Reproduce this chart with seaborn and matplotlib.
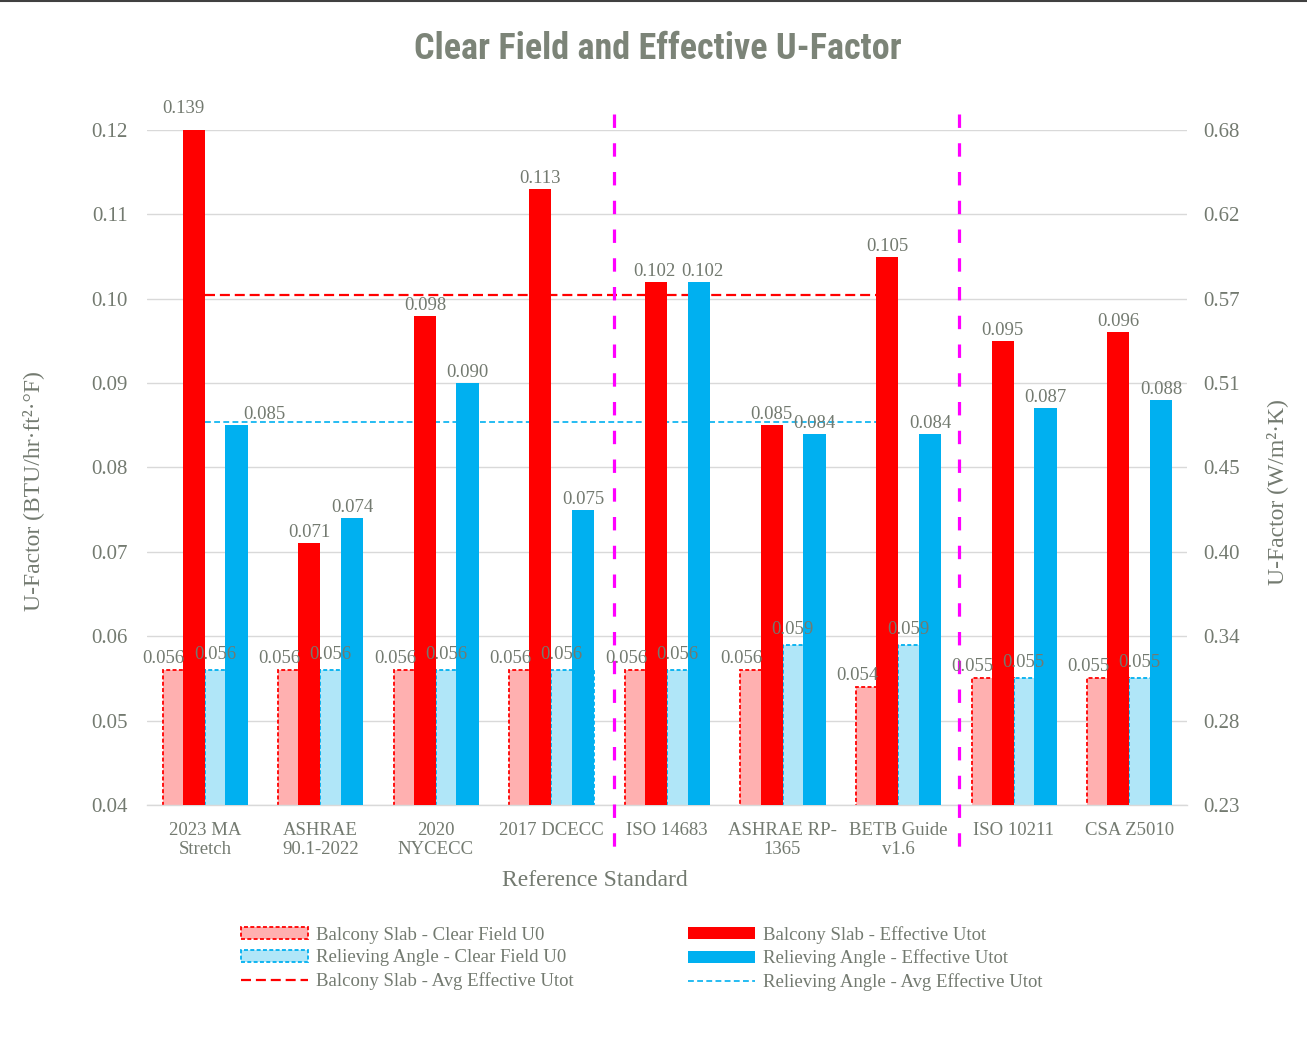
import numpy as np
import pandas as pd
import matplotlib.pyplot as plt
import seaborn as sns
from matplotlib.patches import Patch
from matplotlib.lines import Line2D
from matplotlib import font_manager as fm

# Data
standards = ["2023 MA\nStretch", "ASHRAE\n90.1-2022", "2020\nNYCECC", "2017 DCECC", "ISO 14683",
             "ASHRAE RP-\n1365", "BETB Guide\nv1.6", "ISO 10211", "CSA Z5010"]
slab_clear = [0.056, 0.056, 0.056, 0.056, 0.056, 0.056, 0.054, 0.055, 0.055]
angle_clear = [0.056, 0.056, 0.056, 0.056, 0.056, 0.059, 0.059, 0.055, 0.055]
slab_eff = [0.139, 0.071, 0.098, 0.113, 0.102, 0.085, 0.105, 0.095, 0.096]
angle_eff = [0.085, 0.074, 0.090, 0.075, 0.102, 0.084, 0.084, 0.087, 0.088]
slab_avg = 0.1004
angle_avg = 0.0854
left_ticks = [0.04, 0.05, 0.06, 0.07, 0.08, 0.09, 0.10, 0.11, 0.12]
left_labels = ["0.04", "0.05", "0.06", "0.07", "0.08", "0.09", "0.10", "0.11", "0.12"]
right_labels = ["0.23", "0.28", "0.34", "0.40", "0.45", "0.51", "0.57", "0.62", "0.68"]

RED = "#FF0000"
BLUE = "#00B0F0"
PINK = "#FFB0B0"
LBLUE = "#B0E6F8"
MAGENTA = "#FF00FF"
TXT = "#737a70"
GRID = "#D9D9D9"

sns.set_theme(style="white")
plt.rcParams["font.family"] = ["Liberation Serif", "DejaVu Sans"]


def pick_font(names):
    for n in names:
        try:
            fm.findfont(fm.FontProperties(family=n), fallback_to_default=False)
            return n
        except Exception:
            continue
    return "DejaVu Sans"


title_font = pick_font(["Roboto Condensed", "Liberation Sans Narrow", "Open Sans Condensed",
                        "Arial Narrow", "DejaVu Sans Condensed"])
title_size = 26 if title_font != "DejaVu Sans" else 20

W, H = 1307, 1058
fig = plt.figure(figsize=(W / 100, H / 100), dpi=100)
ax = fig.add_axes([147 / W, 1 - 805 / H, 1040 / W, 675 / H])

# clear field bars (dodged pair, dashed outline)
df = pd.DataFrame({
    "standard": standards * 2,
    "value": slab_clear + angle_clear,
    "series": ["Balcony Slab - Clear Field U0"] * 9 + ["Relieving Angle - Clear Field U0"] * 9,
})
sns.barplot(data=df, x="standard", y="value", hue="series", palette=[PINK, LBLUE],
            width=0.728, gap=0, saturation=1, errorbar=None, legend=False, ax=ax, zorder=2)
for cont, ec in zip(ax.containers, [RED, BLUE]):
    for p in cont:
        p.set_edgecolor(ec)
        p.set_linestyle((0, (2.2, 1.3)))
        p.set_linewidth(1.3)

# effective bars, narrower and offset like the Excel original
x = np.arange(len(standards))
sns.barplot(x=x - 0.095, y=slab_eff, native_scale=True, width=0.19, color=RED,
            saturation=1, errorbar=None, ax=ax, zorder=3, linewidth=0)
sns.barplot(x=x + 0.275, y=angle_eff, native_scale=True, width=0.195, color=BLUE,
            saturation=1, errorbar=None, ax=ax, zorder=3, linewidth=0)

# average lines
ax.hlines(slab_avg, x[0], x[6], color=RED, lw=1.6, linestyles=(0, (4.5, 2.2)), zorder=1)
ax.hlines(angle_avg, x[0], x[6], color=BLUE, lw=1.2, linestyles=(0, (3.5, 2)), zorder=1)

# divider lines (drawn top-down so the dash pattern starts at the top)
for d in [3.54, 6.53]:
    ax.plot([d, d], [1.024, -0.07], transform=ax.get_xaxis_transform(), color=MAGENTA,
            lw=2.3, linestyle=(0, (4.2, 4.8)), clip_on=False, zorder=4)

ax.set_xlim(-0.5, 8.5)
ax.set_ylim(0.04, 0.12)
ax.set_yticks(left_ticks)
ax.set_yticklabels(left_labels)
ax.set_xticks(x)
ax.set_xticklabels(standards, linespacing=1.18)
ax.set_xlabel("")
ax.set_ylabel("")
ax.grid(axis="y", color=GRID, lw=1.0)
ax.set_axisbelow(True)
for s in ["left", "right", "top"]:
    ax.spines[s].set_visible(False)
ax.spines["bottom"].set_color(GRID)
ax.spines["bottom"].set_linewidth(1.0)
ax.tick_params(axis="y", length=0, labelsize=15, colors=TXT, pad=14)
ax.tick_params(axis="x", length=0, labelsize=13.5, colors=TXT, pad=12)

ax2 = ax.twinx()
ax2.set_ylim(0.04, 0.12)
ax2.set_yticks(left_ticks)
ax2.set_yticklabels(right_labels)
ax2.tick_params(axis="y", length=0, labelsize=15, colors=TXT, pad=12)
for s in ax2.spines.values():
    s.set_visible(False)
ax2.grid(False)

# data labels
px = 0.72
top = 0.12
for i in range(len(standards)):
    ax.annotate(f"{slab_clear[i]:.3f}", (i - 0.355, slab_clear[i]), xytext=(0, 7 * px),
                textcoords="offset points", ha="center", va="baseline", fontsize=13.5,
                color=TXT, annotation_clip=False, zorder=6)
    ax.annotate(f"{angle_clear[i]:.3f}", (i + 0.087, angle_clear[i]), xytext=(0, 11 * px),
                textcoords="offset points", ha="center", va="baseline", fontsize=13.5,
                color=TXT, annotation_clip=False, zorder=6)
    dx_r, dy_r, dx_b = (0, 6, 0)
    if i == 0:
        dx_r, dy_r, dx_b = (-10, 17, 28)
    if i == 4:
        dx_r, dx_b = (-2, 4)
    ax.annotate(f"{slab_eff[i]:.3f}", (i - 0.095, min(slab_eff[i], top)),
                xytext=(dx_r * px, dy_r * px), textcoords="offset points", ha="center",
                va="baseline", fontsize=13.5, color=TXT, annotation_clip=False, zorder=6)
    ax.annotate(f"{angle_eff[i]:.3f}", (i + 0.275, angle_eff[i]),
                xytext=(dx_b * px, 6 * px), textcoords="offset points", ha="center",
                va="baseline", fontsize=13.5, color=TXT, annotation_clip=False, zorder=6)

# titles and axis labels
fig.text(658 / W, 1 - 49 / H, "Clear Field and Effective U-Factor", ha="center", va="center",
         fontsize=title_size, fontweight="bold", color="#7c8478",
         family=[title_font, "DejaVu Sans"], fontstretch="condensed")
fig.text(33 / W, 1 - 491 / H, "U-Factor (BTU/hr·ft²·°F)", rotation=90, ha="center",
         va="center", fontsize=17, color=TXT)
fig.text(1277 / W, 1 - 492 / H, "U-Factor (W/m²·K)", rotation=90, ha="center",
         va="center", fontsize=17, color=TXT)
fig.text(595 / W, 1 - 881 / H, "Reference Standard", ha="center", va="center",
         fontsize=17, color=TXT)

# legend
handles = [
    Patch(facecolor=PINK, edgecolor=RED, linestyle=(0, (2.2, 1.3)), linewidth=1.3),
    Patch(facecolor=LBLUE, edgecolor=BLUE, linestyle=(0, (2.2, 1.3)), linewidth=1.3),
    Line2D([], [], color=RED, lw=1.6, linestyle=(0, (4.5, 2.2))),
    Patch(facecolor=RED, edgecolor="none"),
    Patch(facecolor=BLUE, edgecolor="none"),
    Line2D([], [], color=BLUE, lw=1.2, linestyle=(0, (3.5, 2))),
]
labels = ["Balcony Slab - Clear Field U0", "Relieving Angle - Clear Field U0",
          "Balcony Slab - Avg Effective Utot", "Balcony Slab - Effective Utot",
          "Relieving Angle - Effective Utot", "Relieving Angle - Avg Effective Utot"]
leg = fig.legend(handles, labels, ncol=2, loc="upper left", bbox_to_anchor=(241 / W, 1 - 926 / H),
                 frameon=False, fontsize=13.5, handlelength=3.55, handleheight=0.62,
                 labelspacing=0.3, columnspacing=6.1, handletextpad=0.45, borderpad=0,
                 borderaxespad=0)
for t in leg.get_texts():
    t.set_color(TXT)

# thin dark rule along the top edge
fig.add_artist(Line2D([0, 1], [1 - 1.2 / H, 1 - 1.2 / H], transform=fig.transFigure,
                      color="#404040", lw=1.5))

fig.savefig("out.png", dpi=100)
